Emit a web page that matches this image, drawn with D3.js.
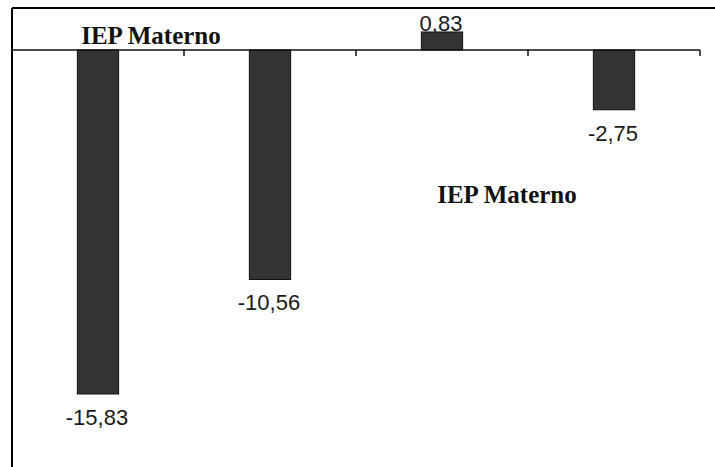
<!DOCTYPE html>
<html>
<head>
<meta charset="utf-8">
<script src="https://cdn.jsdelivr.net/npm/d3@7/dist/d3.min.js"></script>
<style>
  html, body { margin: 0; padding: 0; background: #fff; }
  svg { display: block; }
</style>
</head>
<body>
<svg id="chart" width="715" height="467"></svg>
<script>
// Data
const categories = ["G1", "G2", "G3", "G4"];
const values = [-15.83, -10.56, 0.83, -2.75];
const seriesName = "IEP Materno";

const W = 715, H = 467;
const frame = { left: 12, top: 8, right: 700, bottom: 467 };

const svg = d3.select("#chart");

const x = d3.scaleBand()
  .domain(categories)
  .range([frame.left, frame.right])
  .paddingInner(0)
  .paddingOuter(0);

const y = d3.scaleLinear()
  .domain([-19.19, 1.933])
  .range([frame.bottom, frame.top]);

// Comma decimals, plain hyphen for negatives
const fmt = d3.formatLocale({
  decimal: ",", thousands: ".", grouping: [3], currency: ["", ""], minus: "-"
}).format(".2f");

const barW = x.bandwidth() * 0.24;

// Bars
svg.append("g").selectAll("rect")
  .data(values)
  .join("rect")
  .attr("x", (d, i) => x(categories[i]) + x.bandwidth() / 2 - barW / 2)
  .attr("y", d => y(Math.max(0, d)))
  .attr("width", barW)
  .attr("height", d => Math.abs(y(d) - y(0)))
  .attr("fill", "#333333")
  .attr("stroke", "#111")
  .attr("stroke-width", 1);

// Zero axis with ticks at category boundaries
const axis = svg.append("g");
axis.append("line")
  .attr("x1", frame.left).attr("x2", frame.right)
  .attr("y1", y(0)).attr("y2", y(0))
  .attr("stroke", "#111").attr("stroke-width", 1.5);
axis.selectAll("line.tick")
  .data(categories)
  .join("line")
  .attr("class", "tick")
  .attr("x1", d => x(d) + x.bandwidth())
  .attr("x2", d => x(d) + x.bandwidth())
  .attr("y1", y(0))
  .attr("y2", y(0) + 6)
  .attr("stroke", "#111").attr("stroke-width", 1.5);

// Value labels
svg.append("g").selectAll("text")
  .data(values)
  .join("text")
  .attr("x", (d, i) => x(categories[i]) + x.bandwidth() / 2 - 1)
  .attr("y", d => d < 0 ? y(d) + 31 : y(d) - 1)
  .attr("text-anchor", "middle")
  .attr("font-family", "Liberation Sans, Arial, sans-serif")
  .attr("font-size", 22)
  .attr("fill", "#1a1a1a")
  .text(d => fmt(d));

// Series name labels
const nameLabels = [
  { x: 151, y: 44 },
  { x: 507, y: 203 }
];
svg.append("g").selectAll("text")
  .data(nameLabels)
  .join("text")
  .attr("x", d => d.x)
  .attr("y", d => d.y)
  .attr("text-anchor", "middle")
  .attr("font-family", "Liberation Serif, Times New Roman, serif")
  .attr("font-weight", "bold")
  .attr("font-size", 25)
  .attr("fill", "#111")
  .text(seriesName);

// Frame (top and left edges)
svg.append("line")
  .attr("x1", frame.left).attr("x2", W)
  .attr("y1", frame.top).attr("y2", frame.top)
  .attr("stroke", "#000").attr("stroke-width", 2);
svg.append("line")
  .attr("x1", frame.left).attr("x2", frame.left)
  .attr("y1", frame.top).attr("y2", H)
  .attr("stroke", "#000").attr("stroke-width", 2);
</script>
</body>
</html>
